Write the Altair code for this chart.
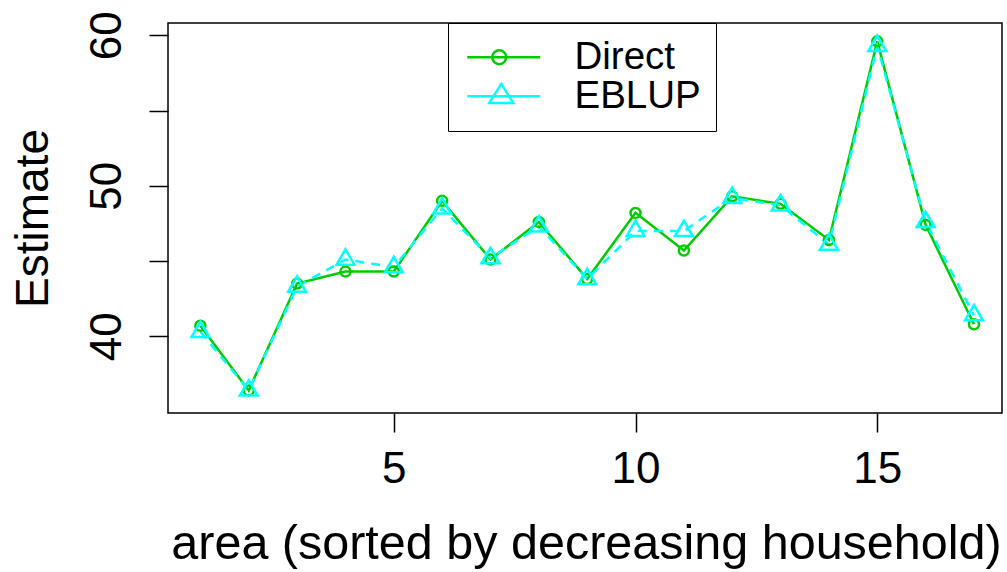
import altair as alt
import pandas as pd

# ---- data ----
area = list(range(1, 18))
direct = [40.7, 36.4, 43.5, 44.3, 44.3, 49.0, 45.1, 47.6, 43.8, 48.2, 45.7, 49.3, 48.8, 46.4, 59.6, 47.4, 40.8]
eblup = [40.3, 36.4, 43.3, 45.1, 44.6, 48.5, 45.2, 47.3, 43.8, 47.0, 47.0, 49.2, 48.7, 46.1, 59.3, 47.6, 41.4]
series_names = ["Direct", "EBLUP"]
x_ticks = [5, 10, 15]
y_ticks = [40, 45, 50, 55, 60]

GREEN = "#00CD00"
CYAN = "#00FFFF"
FONT = "Liberation Sans"

df = pd.DataFrame({
    "area": area + area,
    "estimate": direct + eblup,
    "series": ["Direct"] * len(area) + ["EBLUP"] * len(area),
})

# R-style open triangle (pch = 2), apex above, base below the point
TRI = "M0,-2.05L1.78,1.03L-1.78,1.03Z"

# legend symbols: line segment with the point marker on it
LEG_DIRECT = "M-1,0L3.867,0M1.6,0A0.467,0.467,0,1,1,0.666,0A0.467,0.467,0,1,1,1.6,0"
LEG_EBLUP = "M-1,0L3.867,0M1.267,-0.82L2.067,0.447L0.467,0.447Z"

x_enc = alt.X(
    "area:Q",
    scale=alt.Scale(domain=[0.33, 17.58], nice=False, zero=False),
    title="area (sorted by decreasing household)",
    axis=alt.Axis(
        values=x_ticks, grid=False, domain=False,
        tickSize=19, tickWidth=1.5, tickColor="black",
        labelFont=FONT, labelFontSize=44, labelColor="black",
        labelPadding=50, labelBaseline="alphabetic", labelAlign="center",
        labelFlush=False, labelOverlap=False,
        titleFont=FONT, titleFontSize=48.5, titleFontWeight="normal", titleColor="black",
        titleX=418, titleY=145, titleAlign="center", titleBaseline="alphabetic",
    ),
)
y_enc = alt.Y(
    "estimate:Q",
    scale=alt.Scale(domain=[34.9, 60.82], nice=False, zero=False),
    title="Estimate",
    axis=alt.Axis(
        values=y_ticks, grid=False, domain=False,
        tickSize=19, tickWidth=1.5, tickColor="black",
        labelFont=FONT, labelFontSize=44, labelColor="black",
        labelAngle=270, labelAlign="center", labelBaseline="alphabetic",
        labelPadding=29, labelOverlap=False, labelFlush=False,
        labelExpr="datum.value % 10 === 0 ? datum.label : ''",
        titleFont=FONT, titleFontSize=46, titleFontWeight="normal", titleColor="black",
        titleAngle=270, titleX=-121, titleY=195, titleAlign="center",
        titleBaseline="alphabetic",
    ),
)

legend = alt.Legend(
    title=None, orient="none", legendX=280, legendY=0, direction="vertical",
    strokeColor="black", fillColor="white", padding=15, cornerRadius=0,
    labelFont=FONT, labelFontSize=38.5, labelColor="black", labelOffset=73,
    symbolSize=900, symbolStrokeWidth=2.5, rowPadding=-2.0, symbolOpacity=1,
)

base = alt.Chart(df)

line_direct = base.transform_filter(alt.datum.series == "Direct").mark_line(
    color=GREEN, strokeWidth=2.5
).encode(x=x_enc, y=y_enc)

line_eblup = base.transform_filter(alt.datum.series == "EBLUP").mark_line(
    color=CYAN, strokeWidth=2.5, strokeDash=[9, 7]
).encode(x=x_enc, y=y_enc)

points = base.mark_point(filled=False, size=100, strokeWidth=2.5, opacity=1).encode(
    x=x_enc,
    y=y_enc,
    color=alt.Color("series:N", scale=alt.Scale(domain=series_names, range=[GREEN, CYAN]), legend=None),
    shape=alt.Shape("series:N", scale=alt.Scale(domain=series_names, range=["circle", TRI]), legend=None),
)

# legend-only layer (no visible marks): line + marker symbols
legend_layer = base.transform_filter("datum.area < 0").mark_point(
    filled=False, strokeWidth=2.5, opacity=1
).encode(
    x=x_enc,
    y=y_enc,
    color=alt.Color("series:N", scale=alt.Scale(domain=series_names, range=[GREEN, CYAN]), legend=legend),
    shape=alt.Shape("series:N", scale=alt.Scale(domain=series_names, range=[LEG_DIRECT, LEG_EBLUP]), legend=legend),
)

chart = alt.layer(line_direct, line_eblup, points, legend_layer).resolve_scale(
    color="independent", shape="independent"
).properties(
    width=834,
    height=390,
    padding={"left": 168, "top": 23, "right": 5, "bottom": 159},
    autosize=alt.AutoSizeParams(type="none"),
    background="white",
).configure_view(stroke="black", strokeWidth=1.5)

chart.save("out.html", embed_options={"renderer": "svg", "actions": False})
